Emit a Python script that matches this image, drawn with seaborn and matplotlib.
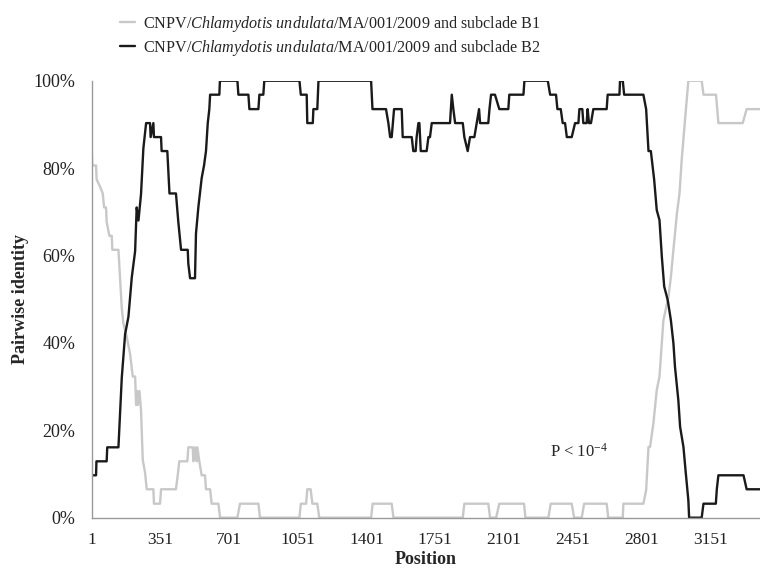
import matplotlib
matplotlib.use("Agg")
import matplotlib.pyplot as plt
from matplotlib.ticker import PercentFormatter
import pandas as pd
import seaborn as sns

# sliding-window pairwise identity (%) vs alignment position
B1_POS = [1, 4, 23, 26, 43, 57, 64, 74, 77, 91, 103, 106, 137, 145, 154, 162, 179, 196,
          210, 222, 227, 232, 236, 244, 252, 261, 273, 281, 315, 318, 349, 354, 430, 439,
          447, 488, 493, 515, 519, 527, 536, 539, 549, 561, 578, 583, 604, 612, 646, 655,
          743, 756, 850, 858, 1059, 1066, 1093, 1099, 1116, 1125, 1150, 1160, 1424, 1432,
          1529, 1538, 1891, 1899, 2021, 2030, 2061, 2077, 2203, 2210, 2327, 2339, 2446,
          2458, 2497, 2509, 2624, 2632, 2706, 2709, 2811, 2825, 2837, 2845, 2862, 2879,
          2893, 2913, 2939, 2951, 2964, 2982, 2995, 3006, 3023, 3040, 3108, 3117, 3181,
          3193, 3317, 3337, 3405]
B1_IDENT = [84.0, 80.6, 80.6, 77.4, 75.8, 74.2, 71.0, 71.0, 67.7, 64.5, 64.5, 61.3, 61.3,
            55.0, 48.0, 44.5, 41.4, 37.6, 32.3, 32.3, 25.8, 29.0, 25.8, 29.0, 24.6, 13.2,
            10.2, 6.5, 6.5, 3.2, 3.2, 6.5, 6.5, 9.7, 12.9, 12.9, 16.1, 16.1, 12.9, 16.1,
            12.9, 16.1, 12.9, 9.7, 9.7, 6.5, 6.5, 3.2, 3.2, 0.0, 0.0, 3.2, 3.2, 0.0, 0.0,
            3.2, 3.2, 6.5, 6.5, 3.2, 3.2, 0.0, 0.0, 3.2, 3.2, 0.0, 0.0, 3.2, 3.2, 0.0, 0.0,
            3.2, 3.2, 0.0, 0.0, 3.2, 3.2, 0.0, 0.0, 3.2, 3.2, 0.0, 0.0, 3.2, 3.2, 6.3, 16.2,
            16.2, 21.6, 29.2, 32.3, 45.2, 50.6, 55.1, 61.3, 69.7, 74.2, 81.8, 91.0, 100.0,
            100.0, 96.8, 96.8, 90.3, 90.3, 93.5, 93.5]

B2_POS = [1, 23, 25, 77, 80, 137, 154, 171, 188, 205, 222, 230, 239, 252, 264, 278, 298,
          301, 315, 318, 354, 357, 386, 397, 430, 442, 456, 490, 493, 502, 527, 532, 544,
          561, 573, 583, 592, 600, 604, 651, 654, 743, 748, 799, 804, 850, 855, 875, 880,
          1059, 1066, 1096, 1099, 1127, 1130, 1150, 1156, 1424, 1431, 1500, 1512, 1521,
          1529, 1541, 1580, 1585, 1631, 1639, 1651, 1656, 1665, 1670, 1677, 1707, 1716,
          1724, 1733, 1826, 1835, 1843, 1852, 1891, 1899, 1916, 1928, 1950, 1962, 1974,
          1979, 2021, 2027, 2035, 2055, 2077, 2123, 2128, 2200, 2205, 2324, 2336, 2366,
          2373, 2390, 2400, 2412, 2421, 2446, 2463, 2480, 2485, 2500, 2505, 2522, 2527,
          2534, 2544, 2556, 2624, 2629, 2689, 2692, 2706, 2713, 2811, 2825, 2837, 2849,
          2866, 2879, 2893, 2905, 2917, 2935, 2951, 2964, 2972, 2989, 2998, 3015, 3027,
          3040, 3044, 3108, 3117, 3180, 3185, 3193, 3321, 3337, 3405]
B2_IDENT = [9.7, 9.7, 12.9, 12.9, 16.1, 16.1, 32.0, 42.0, 46.0, 55.0, 61.0, 71.0, 68.0,
            74.0, 84.5, 90.3, 90.3, 87.1, 90.3, 87.1, 87.1, 83.9, 83.9, 74.2, 74.2, 67.7,
            61.3, 61.3, 58.1, 54.8, 54.8, 65.0, 71.0, 77.7, 80.6, 83.9, 90.3, 93.5, 96.8,
            96.8, 100.0, 100.0, 96.8, 96.8, 93.5, 93.5, 96.8, 96.8, 100.0, 100.0, 96.8,
            96.8, 90.3, 90.3, 93.5, 93.5, 100.0, 100.0, 93.5, 93.5, 90.3, 87.1, 87.1, 93.5,
            93.5, 87.1, 87.1, 83.9, 83.9, 87.1, 90.3, 90.3, 83.9, 83.9, 87.1, 87.1, 90.3,
            90.3, 96.8, 93.5, 90.3, 90.3, 87.1, 83.9, 87.1, 87.1, 90.3, 93.5, 90.3, 90.3,
            93.5, 96.8, 96.8, 93.5, 93.5, 96.8, 96.8, 100.0, 100.0, 96.8, 96.8, 93.5, 93.5,
            90.3, 90.3, 87.1, 87.1, 90.3, 90.3, 93.5, 93.5, 90.3, 90.3, 93.5, 90.3, 90.3,
            93.5, 93.5, 96.8, 96.8, 100.0, 100.0, 96.8, 96.8, 93.5, 83.9, 83.9, 77.3, 70.4,
            68.1, 59.7, 52.9, 49.8, 45.2, 39.9, 34.5, 26.9, 20.8, 16.2, 10.2, 4.0, 0.0, 0.0,
            3.2, 3.2, 6.5, 9.7, 9.7, 6.5, 6.5]

LABEL_B1 = r"CNPV/$\mathit{Chlamydotis\ undulata}$/MA/001/2009 and subclade B1"
LABEL_B2 = r"CNPV/$\mathit{Chlamydotis\ undulata}$/MA/001/2009 and subclade B2"
X_TICKS = [1, 351, 701, 1051, 1401, 1751, 2101, 2451, 2801, 3151]
Y_TICKS = [0, 20, 40, 60, 80, 100]

sns.set_style("white")
plt.rcParams.update({
    "font.family": ["Liberation Serif", "DejaVu Serif"],
    "mathtext.fontset": "custom",
    "mathtext.rm": "Liberation Serif",
    "mathtext.it": "Liberation Serif:italic",
    "mathtext.bf": "Liberation Serif:bold",
    "font.size": 12,
})

df = pd.concat([
    pd.DataFrame({"position": B1_POS, "identity": B1_IDENT, "series": LABEL_B1}),
    pd.DataFrame({"position": B2_POS, "identity": B2_IDENT, "series": LABEL_B2}),
])

fig = plt.figure(figsize=(7.6, 5.68), dpi=100)
ax = fig.add_axes([0.1207, 0.0886, 0.8793, 0.7693])
sns.lineplot(data=df, x="position", y="identity", hue="series",
             palette={LABEL_B1: "#c8c8c8", LABEL_B2: "#1a1a1a"},
             estimator=None, sort=False, linewidth=1.7, ax=ax)

ax.set_xlim(1, 3405)
ax.set_ylim(0, 100)
ax.set_xticks(X_TICKS)
ax.set_yticks(Y_TICKS)
ax.yaxis.set_major_formatter(PercentFormatter(100, decimals=0))
for side in ("top", "right"):
    ax.spines[side].set_visible(False)
for side in ("left", "bottom"):
    ax.spines[side].set_color("#9a9a9a")
    ax.spines[side].set_linewidth(1.0)
ax.tick_params(axis="both", colors="#9a9a9a", labelcolor="#222222",
               length=5, width=1.0, direction="out")
ax.tick_params(axis="x", labelsize=12.5, pad=5)
ax.tick_params(axis="y", labelsize=13, pad=7)
ax.set_xlabel("Position", fontweight="bold", fontsize=13)
ax.set_ylabel("Pairwise identity", fontweight="bold", fontsize=13)
ax.xaxis.set_label_coords(0.5, -0.077)
ax.yaxis.set_label_coords(-0.0946, 0.5)

ax.text(2336, 15, r"P < 10$^{-4}$", ha="left", va="center", fontsize=12)

handles, labels = ax.get_legend_handles_labels()
ax.get_legend().remove()
fig.legend(handles, labels, loc="upper left", bbox_to_anchor=(0.158, 0.976),
           frameon=False, fontsize=11.6, handlelength=0.9, handletextpad=0.5,
           labelspacing=0.25, borderpad=0, borderaxespad=0)

fig.savefig("out.png", dpi=100)
